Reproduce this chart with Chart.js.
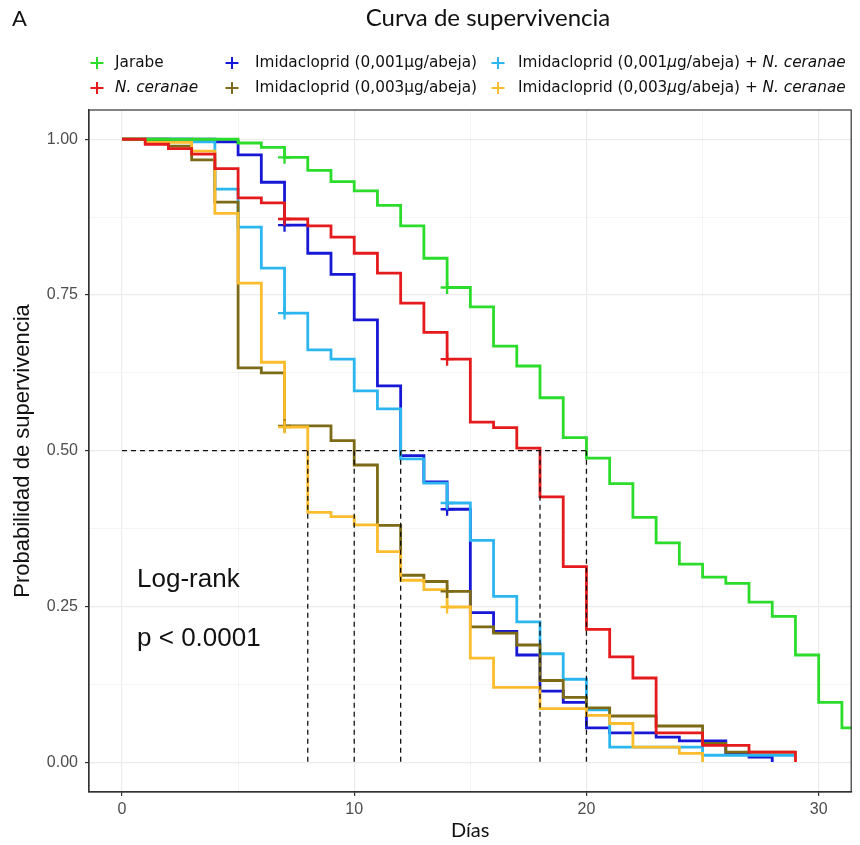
<!DOCTYPE html>
<html>
<head>
<meta charset="utf-8">
<script src="https://cdn.jsdelivr.net/npm/chart.js@4.4.1/dist/chart.umd.min.js"></script>
<style>
  html, body { margin: 0; padding: 0; background: #ffffff; }
  #wrap { width: 860px; height: 845px; position: relative; }
</style>
</head>
<body>
<div id="wrap"><canvas id="chart" width="860" height="845"></canvas></div>
<script>
// Kaplan-Meier survival: day of each drop and survival after it
const jarabeDays = [0, 5, 6, 7, 8, 9, 10, 11, 12, 13, 14, 15, 16, 17, 18, 19, 20, 21, 22, 23, 24, 25, 26, 27, 28, 29, 30, 31, 32];
const jarabeSurv = [1.0, 0.994, 0.987, 0.971, 0.950, 0.932, 0.917, 0.894, 0.861, 0.809, 0.762, 0.731, 0.668, 0.636, 0.585, 0.521, 0.488, 0.447, 0.393, 0.352, 0.318, 0.297, 0.287, 0.257, 0.234, 0.172, 0.096, 0.055, 0.055];

const nosemaDays = [0, 1, 2, 3, 4, 5, 6, 7, 8, 9, 10, 11, 12, 13, 14, 15, 16, 17, 18, 19, 20, 21, 22, 23, 25, 27, 29];
const nosemaSurv = [1.0, 0.992, 0.985, 0.976, 0.953, 0.906, 0.898, 0.872, 0.861, 0.843, 0.817, 0.785, 0.737, 0.690, 0.647, 0.546, 0.537, 0.504, 0.426, 0.314, 0.213, 0.169, 0.135, 0.047, 0.027, 0.016, 0.0];

const imi001Days = [0, 4, 5, 6, 7, 8, 9, 10, 11, 12, 13, 14, 15, 16, 17, 18, 19, 20, 21, 23, 24, 26, 27, 28];
const imi001Surv = [1.0, 0.996, 0.975, 0.931, 0.862, 0.817, 0.783, 0.710, 0.604, 0.492, 0.450, 0.406, 0.240, 0.210, 0.172, 0.114, 0.096, 0.055, 0.047, 0.040, 0.034, 0.014, 0.008, 0.0];

const imi003Days = [0, 2, 3, 4, 5, 6, 7, 9, 10, 11, 12, 13, 14, 15, 16, 17, 18, 19, 20, 21, 23, 25, 26, 29];
const imi003Surv = [1.0, 0.989, 0.967, 0.899, 0.633, 0.625, 0.540, 0.516, 0.477, 0.380, 0.300, 0.290, 0.274, 0.217, 0.207, 0.188, 0.131, 0.104, 0.087, 0.074, 0.058, 0.030, 0.016, 0.016];

const imi001NcDays = [0, 3, 4, 5, 6, 7, 8, 9, 10, 11, 12, 13, 14, 15, 16, 17, 18, 19, 20, 21, 25, 29];
const imi001NcSurv = [1.0, 0.996, 0.920, 0.859, 0.793, 0.721, 0.662, 0.647, 0.596, 0.567, 0.487, 0.448, 0.416, 0.356, 0.266, 0.225, 0.174, 0.133, 0.084, 0.024, 0.011, 0.011];

const imi003NcDays = [0, 1, 3, 4, 5, 6, 7, 8, 9, 10, 11, 12, 13, 14, 15, 16, 18, 20, 21, 22, 24, 25];
const imi003NcSurv = [1.0, 0.995, 0.981, 0.881, 0.769, 0.642, 0.538, 0.401, 0.394, 0.381, 0.338, 0.292, 0.277, 0.249, 0.167, 0.120, 0.086, 0.075, 0.062, 0.024, 0.014, 0.0];

// censoring days marked with "+"
const censorDays = [7, 14];

// median survival guides
const medianLevel = 0.5;
const medianDays = [8, 10, 12, 18, 20];

// axis ticks
const xGridDays = [0, 5, 10, 15, 20, 25, 30];
const xTickLabels = ['0', '', '10', '', '20', '', '30'];
const yGridValues = [0, 0.125, 0.25, 0.375, 0.5, 0.625, 0.75, 0.875, 1.0];
const yTickLabels = ['0.00', '', '0.25', '', '0.50', '', '0.75', '', '1.00'];

const GEO = '"Lato", "Open Sans", sans-serif';
const WIDE = '"DejaVu Sans", "Open Sans", sans-serif';
const ARIAL = '"Liberation Sans", Arial, sans-serif';

// groups: legend label pieces (italic flags), colour, drawing order
const groups = [
  { days: jarabeDays,   surv: jarabeSurv,   color: '#2bdc2b', order: 2,
    label: [['Jarabe', false]] },
  { days: nosemaDays,   surv: nosemaSurv,   color: '#e41a1c', order: 1,
    label: [['N. ceranae', true]] },
  { days: imi001Days,   surv: imi001Surv,   color: '#1717d6', order: 6,
    label: [['Imidacloprid (0,001\u00b5g/abeja)', false]] },
  { days: imi003Days,   surv: imi003Surv,   color: '#7c6a17', order: 4,
    label: [['Imidacloprid (0,003\u00b5g/abeja)', false]] },
  { days: imi001NcDays, surv: imi001NcSurv, color: '#2cb6f0', order: 5,
    label: [['Imidacloprid (0,001', false], ['\u00b5', true], ['g/abeja) + ', false], ['N. ceranae', true]] },
  { days: imi003NcDays, surv: imi003NcSurv, color: '#fbbd2e', order: 3,
    label: [['Imidacloprid (0,003', false], ['\u00b5', true], ['g/abeja) + ', false], ['N. ceranae', true]] }
];

function survAt(days, surv, t) {
  let v = surv[0];
  for (let i = 0; i < days.length; i++) if (days[i] <= t) v = surv[i];
  return v;
}

const datasets = [];
groups.forEach(g => {
  datasets.push({
    type: 'line',
    data: g.days.map((d, i) => ({ x: d, y: g.surv[i] })),
    stepped: true,
    borderColor: g.color,
    borderWidth: 2.8,
    pointRadius: 0,
    fill: false,
    order: g.order + 10
  });
});
groups.forEach(g => {
  datasets.push({
    type: 'scatter',
    data: censorDays.map(d => ({ x: d, y: survAt(g.days, g.surv, d) })),
    pointStyle: 'cross',
    pointRadius: 6.5,
    pointBorderWidth: 2.3,
    pointBorderColor: g.color,
    pointBackgroundColor: g.color,
    showLine: false,
    order: g.order + 3
  });
});
// median guide lines
const dashStyle = { type: 'line', borderColor: '#111111', borderWidth: 1.3, borderDash: [5, 4],
                    pointRadius: 0, fill: false, order: 0 };
datasets.push(Object.assign({}, dashStyle, {
  data: [{ x: 0, y: medianLevel }, { x: Math.max(...medianDays), y: medianLevel }]
}));
medianDays.forEach(d => {
  datasets.push(Object.assign({}, dashStyle, { data: [{ x: d, y: medianLevel }, { x: d, y: 0 }] }));
});

const decorations = {
  id: 'decorations',
  afterDatasetsDraw(chart) {
    const { ctx, chartArea: a, scales } = chart;
    ctx.save();
    // panel border
    ctx.strokeStyle = '#333333';
    ctx.lineWidth = 1.2;
    ctx.strokeRect(a.left, a.top, a.right - a.left, a.bottom - a.top);

    // log-rank annotation
    ctx.fillStyle = '#111111';
    ctx.font = '26px ' + ARIAL;
    ctx.textAlign = 'left';
    ctx.textBaseline = 'middle';
    const tx = scales.x.getPixelForValue(0.65);
    ctx.fillText('Log-rank', tx, scales.y.getPixelForValue(0.293));
    ctx.fillText('p < 0.0001', tx, scales.y.getPixelForValue(0.198));
    ctx.restore();
  },
  afterDraw(chart) {
    const { ctx } = chart;
    ctx.save();
    ctx.fillStyle = '#111111';
    ctx.textBaseline = 'middle';
    ctx.textAlign = 'left';
    ctx.font = '22px ' + GEO;
    ctx.fillText('A', 12, 19);
    ctx.textAlign = 'center';
    ctx.font = '24px ' + GEO;
    ctx.fillText('Curva de supervivencia', 488, 18);

    // legend: three columns, two rows
    const colX = [97, 232, 498];
    const rowY = [63, 88];
    const textGap = [18, 23, 20];
    ctx.textAlign = 'left';
    groups.forEach((g, i) => {
      const col = Math.floor(i / 2), row = i % 2;
      const cx = colX[col], cy = rowY[row];
      ctx.strokeStyle = g.color;
      ctx.lineWidth = 2;
      ctx.beginPath();
      ctx.moveTo(cx - 6.5, cy); ctx.lineTo(cx + 6.5, cy);
      ctx.moveTo(cx, cy - 6); ctx.lineTo(cx, cy + 6);
      ctx.stroke();
      let x = cx + textGap[col];
      g.label.forEach(([t, it]) => {
        ctx.font = (it ? 'italic ' : '') + '15.3px ' + WIDE;
        ctx.fillStyle = '#111111';
        ctx.fillText(t, x, cy);
        x += ctx.measureText(t).width;
      });
    });
    ctx.restore();
  }
};

const tickFont = { family: ARIAL, size: 16 };
const isMajorY = c => c.tick && Math.abs(c.tick.value * 4 - Math.round(c.tick.value * 4)) < 1e-6;
const isMajorX = c => c.tick && c.tick.value % 10 === 0;

new Chart(document.getElementById('chart'), {
  type: 'line',
  data: { datasets },
  options: {
    responsive: false,
    animation: false,
    devicePixelRatio: 1,
    layout: { padding: { top: 110, right: 8, left: 0, bottom: 0 } },
    plugins: { legend: { display: false }, tooltip: { enabled: false }, title: { display: false } },
    scales: {
      x: {
        type: 'linear',
        min: -1.42,
        max: 31.4,
        afterBuildTicks: s => { s.ticks = xGridDays.map(v => ({ value: v })); },
        afterFit: s => { s.height = 53; },
        ticks: {
          color: '#4d4d4d', font: tickFont, padding: 4, maxRotation: 0, autoSkip: false,
          callback: (v) => xTickLabels[xGridDays.indexOf(v)]
        },
        grid: {
          color: c => isMajorX(c) ? '#ebebeb' : '#f3f3f3',
          lineWidth: c => isMajorX(c) ? 1.2 : 0.8,
          tickColor: c => isMajorX(c) ? '#333333' : 'rgba(0,0,0,0)',
          tickLength: 4
        },
        border: { color: '#333333', width: 1.2 },
        title: { display: true, text: 'D\u00edas', color: '#111111', font: { family: GEO, size: 20 }, padding: { top: 0, bottom: 2 } }
      },
      y: {
        type: 'linear',
        min: -0.048,
        max: 1.047,
        afterBuildTicks: s => { s.ticks = yGridValues.map(v => ({ value: v })); },
        afterFit: s => { s.width = 89; },
        ticks: {
          color: '#4d4d4d', font: tickFont, padding: 7, autoSkip: false,
          callback: (v) => yTickLabels[yGridValues.indexOf(v)]
        },
        grid: {
          color: c => isMajorY(c) ? '#ebebeb' : '#f3f3f3',
          lineWidth: c => isMajorY(c) ? 1.2 : 0.8,
          tickColor: c => isMajorY(c) ? '#333333' : 'rgba(0,0,0,0)',
          tickLength: 4
        },
        border: { color: '#333333', width: 1.2 },
        title: { display: true, text: 'Probabilidad de supervivencia', color: '#111111', font: { family: ARIAL, size: 22 }, padding: { top: 10, bottom: 0 } }
      }
    }
  },
  plugins: [decorations]
});
</script>
</body>
</html>
